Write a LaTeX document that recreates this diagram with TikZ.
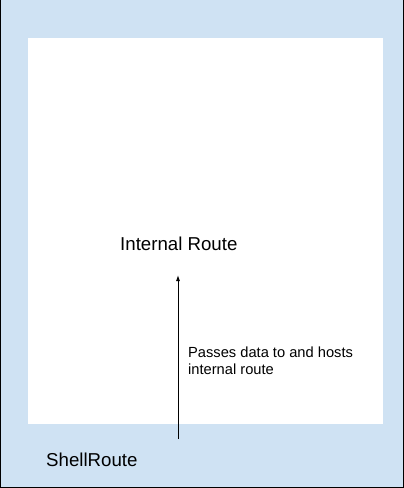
\documentclass[tikz,border=0pt]{standalone}
\usepackage{fontspec}
\setmainfont{Liberation Sans}
\usetikzlibrary{arrows.meta,positioning,calc}

\definecolor{shellblue}{HTML}{CFE2F3}

\begin{document}
\begin{tikzpicture}[x=1pt, y=-1pt,
  >=Stealth,
  region/.style={draw=none, inner sep=0pt, outer sep=0pt, anchor=north west},
  lbl/.style={inner sep=0pt, anchor=base west,
              font=\fontsize{18.67}{22}\selectfont},
  note/.style={inner sep=0pt, anchor=base west, align=left,
               font=\fontsize{14.67}{16.5}\selectfont},
  arr/.style={-{Latex[length=6pt, width=4pt]}, line width=0.9pt, draw=black},
]
\useasboundingbox (0,0) rectangle (404,488);

% ShellRoute background
\node[region, fill=shellblue, minimum width=404pt, minimum height=488pt]
  (shell) at (0,0) {};
\draw[line width=0.9pt] ($(shell.north west)+(0.5,0)$)
  -- ($(shell.south west)+(0.5,-0.5)$)
  -- ($(shell.south east)+(-0.5,-0.5)$)
  -- ($(shell.north east)+(-0.5,0)$);

% Internal route area
\node[region, fill=white, minimum width=355pt, minimum height=386pt]
  (inner) at (28,38) {};

% Labels
\node[lbl] (internal) at (120,250) {Internal Route};
\node[lbl] (shelllbl) at (46,466) {ShellRoute};
\node[note] (passes) at (188,374) {Passes data to and hosts\\internal route};

% Arrow up into the internal route
\coordinate (tail) at (178,439);
\coordinate (tip) at (178,275);
\draw[arr] (tail) -- (tip);

\end{tikzpicture}
\end{document}
